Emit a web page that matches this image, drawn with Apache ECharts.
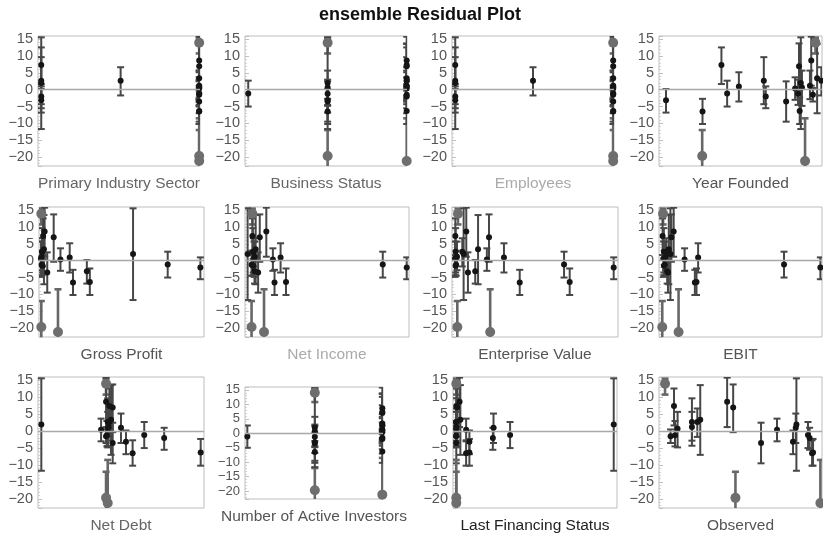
<!DOCTYPE html>
<html><head><meta charset="utf-8">
<script src="https://cdn.jsdelivr.net/npm/echarts@6/dist/echarts.min.js"></script>
<style>html,body{margin:0;padding:0;background:#fff}#c{width:823px;height:535px}</style>
</head><body><div id="c"></div>
<script>
// ---- observations (shared by every panel) ----
const residual = [14.0,-1.5,7.4,-1.2,0.7,2.7,1.2,2.7,3.4,8.7,7.0,-19.7,-3.5,0.4,-3.1,1.0,2.0,-1.1,-2.0,-6.5,-21.2,-6.3];
const errLow   = [10.8,-3.5,1.7,-4.5,-4.8,-4.3,-2.8,-1.7,-7.0,1.2,-0.3,-23.5,-9.5,-3.0,-6.8,-3.5,-11.7,-5.0,-5.5,-10.2,-23.5,-10.2];
const errHigh  = [15.5,0.5,12.6,3.0,5.7,9.7,5.7,6.7,13.6,15.8,13.8,-12.0,2.5,3.7,0.2,5.2,15.6,2.7,1.0,-2.7,-8.5,-2.3];
const outlier  = [1,0,0,0,0,0,0,0,0,0,0,1,0,0,0,0,0,0,0,0,1,0];

// ---- x position of each observation in each panel (fraction of the panel's x range) ----
const xPrimaryIndustrySector = [0.995,0.995,0.02,0.995,0.995,0.02,0.995,0.51,0.995,0.995,0.995,0.995,0.995,0.995,0.02,0.995,0.02,0.995,0.02,0.995,0.995,0.995];
const xBusinessStatus = [0.51,0.998,0.998,0.51,0.51,0.998,0.998,0.998,0.998,0.998,0.998,0.51,0.51,0.998,0.51,0.998,0.51,0.02,0.998,0.51,0.998,0.998];
const xEmployees = [0.995,0.995,0.02,0.995,0.995,0.02,0.995,0.5,0.995,0.995,0.995,0.995,0.995,0.995,0.02,0.995,0.02,0.995,0.02,0.995,0.995,0.995];
const xYearFounded = [0.96,0.944,0.383,0.853,0.877,0.643,0.926,0.996,0.97,0.934,0.859,0.265,0.78,0.835,0.043,0.49,0.87,0.418,0.655,0.267,0.896,0.863];
const xGrossProfit = [0.014,0.022,0.025,0.016,0.012,0.018,0.015,0.02,0.03,0.034,0.089,0.014,0.05,0.13,0.29,0.186,0.57,0.78,0.978,0.206,0.115,0.308];
const xNetIncome = [0.045,0.05,0.045,0.04,0.055,0.048,0.06,0.052,0.065,0.13,0.09,0.04,0.08,0.17,0.058,0.217,0.016,0.84,0.986,0.18,0.116,0.25];
const xEnterpriseValue = [0.036,0.022,0.02,0.025,0.018,0.022,0.03,0.062,0.157,0.086,0.223,0.032,0.096,0.21,0.14,0.313,0.07,0.675,0.974,0.408,0.23,0.709];
const xEBIT = [0.025,0.03,0.022,0.035,0.028,0.03,0.04,0.045,0.06,0.09,0.076,0.02,0.055,0.157,0.05,0.24,0.07,0.767,0.99,0.22,0.12,0.23];
const xNetDebt = [0.41,0.41,0.43,0.415,0.42,0.42,0.425,0.43,0.44,0.41,0.45,0.41,0.45,0.38,0.53,0.5,0.02,0.64,0.76,0.57,0.42,0.98];
const xActiveInvestors = [0.506,0.995,0.995,0.506,0.506,0.995,0.995,0.995,0.995,0.995,0.995,0.506,0.506,0.995,0.506,0.995,0.506,0.017,0.995,0.506,0.995,0.995];
const xLastFinancingStatus = [0.02,0.02,0.02,0.02,0.02,0.02,0.02,0.02,0.045,0.04,0.025,0.02,0.02,0.08,0.10,0.247,0.98,0.348,0.243,0.08,0.02,0.10];
const xObserved = [0.037,0.071,0.092,0.098,0.114,0.202,0.202,0.235,0.253,0.418,0.455,0.469,0.626,0.724,0.822,0.839,0.843,0.914,0.924,0.939,0.99,0.945];

const panelNames = ['Primary Industry Sector','Business Status','Employees','Year Founded',
  'Gross Profit','Net Income','Enterprise Value','EBIT',
  'Net Debt','Number of Active Investors','Last Financing Status','Observed'];
const panelX = [xPrimaryIndustrySector,xBusinessStatus,xEmployees,xYearFounded,
  xGrossProfit,xNetIncome,xEnterpriseValue,xEBIT,
  xNetDebt,xActiveInvestors,xLastFinancingStatus,xObserved];
const yTickLabels = [15,10,5,0,-5,-10,-15,-20];

// ---- layout / style (kept apart from data) ----
const YMIN = -22.7, YMAX = 16;
const layout = [
  {l:38,t:36,w:162,h:130,c:'#666'},{l:245,t:36,w:162,h:130,c:'#666'},{l:452,t:36,w:162,h:130,c:'#aaa'},{l:659,t:36,w:163,h:130,c:'#555'},
  {l:39,t:207,w:165,h:130,c:'#555'},{l:245,t:207,w:164,h:130,c:'#aaa'},{l:452,t:207,w:166,h:130,c:'#555'},{l:659,t:207,w:163,h:130,c:'#555'},
  {l:38,t:377,w:166,h:131,c:'#666'},{l:245,t:387,w:138,h:112,c:'#555',fs:13},{l:453,t:377,w:164,h:131,c:'#222'},{l:659,t:377,w:163,h:131,c:'#555'}
];
const FONT = '"Liberation Sans", Arial, Helvetica, sans-serif';

function fmtTick(v){
  const r = Math.round(v);
  if (Math.abs(v - r) > 1e-6 || yTickLabels.indexOf(r) < 0) return '';
  return r < 0 ? '\u2212' + (-r) : String(r);
}

function renderBar(params, api){
  const x = api.value(0), lo = api.value(1), hi = api.value(2), out = api.value(3);
  const loC = Math.max(lo, YMIN), hiC = Math.min(hi, YMAX);
  const pTop = api.coord([x, hiC]), pBot = api.coord([x, loC]);
  const cap = 3.5;
  const style = {stroke: out ? '#676767' : '#474747', lineWidth: out ? 2.6 : 2};
  const ch = [{type:'line', shape:{x1:pTop[0],y1:pTop[1],x2:pBot[0],y2:pBot[1]}, style}];
  if (hi <= YMAX) ch.push({type:'line', shape:{x1:pTop[0]-cap,y1:pTop[1],x2:pTop[0]+cap,y2:pTop[1]}, style});
  if (lo >= YMIN) ch.push({type:'line', shape:{x1:pBot[0]-cap,y1:pBot[1],x2:pBot[0]+cap,y2:pBot[1]}, style});
  return {type:'group', children: ch};
}

const grid = [], xAxis = [], yAxis = [], series = [];
panelNames.forEach((name, i) => {
  const L = layout[i];
  grid.push({left:L.l, top:L.t, width:L.w, height:L.h, show:true, borderColor:'#bdbdbd', borderWidth:1, backgroundColor:'transparent'});
  xAxis.push({type:'value', gridIndex:i, min:0, max:1, axisLabel:{show:false}, axisTick:{show:false}, axisLine:{show:false}, splitLine:{show:false},
    name:name, nameLocation:'middle', nameGap:10, nameTextStyle:{color:L.c, fontSize:15.5, fontFamily:FONT, verticalAlign:'top'}});
  yAxis.push({type:'value', gridIndex:i, min:YMIN, max:YMAX, splitNumber:8, axisLine:{show:false}, splitLine:{show:false},
    axisTick:{show:true, inside:true, length:4, lineStyle:{color:'#c0c0c0'}},
    minorTick:{show:true, splitNumber:5, length:2, lineStyle:{color:'#d0d0d0'}},
    axisLabel:{formatter:fmtTick, color:'#555', fontSize:L.fs || 14.5, fontFamily:FONT, margin:5, showMinLabel:true, showMaxLabel:true}});
  const xs = panelX[i];
  const bars = [], pts = [], outs = [];
  residual.forEach((r, k) => {
    bars.push([xs[k], errLow[k], errHigh[k], outlier[k]]);
    if (outlier[k]) outs.push([xs[k], r]); else pts.push([xs[k], r]);
  });
  series.push({type:'scatter', xAxisIndex:i, yAxisIndex:i, data:[], silent:true, z:1,
    markLine:{silent:true, symbol:['none','none'], label:{show:false}, lineStyle:{color:'#a8a8a8', width:1.3, type:'solid'}, data:[{yAxis:0}], animation:false}});
  series.push({type:'custom', xAxisIndex:i, yAxisIndex:i, renderItem:renderBar, data:bars, z:2, silent:true, clip:true});
  series.push({type:'scatter', xAxisIndex:i, yAxisIndex:i, data:outs, symbolSize:10, itemStyle:{color:'#6e6e6e', opacity:1}, z:3, silent:true});
  series.push({type:'scatter', xAxisIndex:i, yAxisIndex:i, data:pts, symbolSize:6, itemStyle:{color:'#151515', opacity:1}, z:4, silent:true});
});

const chart = echarts.init(document.getElementById('c'), null, {renderer:'canvas'});
chart.setOption({
  animation:false,
  backgroundColor:'#fff',
  title:{text:'ensemble Residual Plot', left:314, top:1, textStyle:{fontSize:18, fontWeight:'bold', color:'#111', fontFamily:FONT}},
  grid, xAxis, yAxis, series
});
</script></body></html>
